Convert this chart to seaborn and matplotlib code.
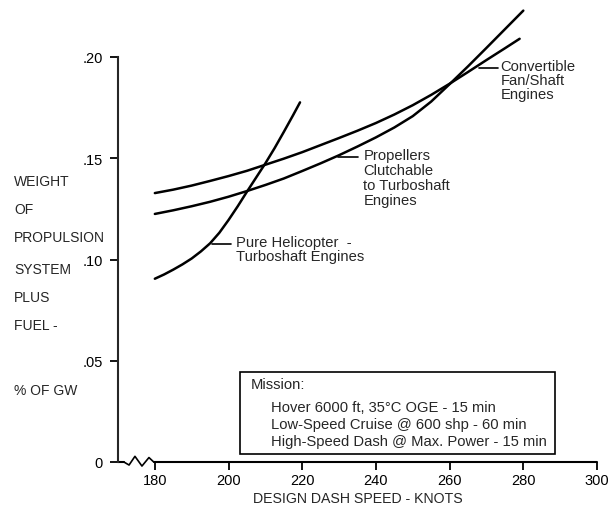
import matplotlib
matplotlib.use("Agg")
import matplotlib.pyplot as plt
from matplotlib.patches import Rectangle
import seaborn as sns
import pandas as pd

# ---- data ----
heli_speed = [180, 182.5, 185, 187.5, 190, 192.5, 195, 197.5, 200, 202.5, 205,
              207.5, 210, 212.5, 215, 217.5, 219.4]
heli_weight = [0.0905, 0.0926, 0.0950, 0.0976, 0.1005, 0.1040, 0.1080, 0.1132,
               0.1195, 0.1263, 0.1335, 0.1405, 0.1475, 0.1550, 0.1630, 0.1712,
               0.1776]

conv_speed = [180, 185, 190, 195, 200, 205, 210, 215, 220, 225, 230, 235, 240,
              245, 250, 255, 260, 265, 270, 275, 279]
conv_weight = [0.1328, 0.1345, 0.1365, 0.1388, 0.1412, 0.1438, 0.1468, 0.1498,
               0.1530, 0.1565, 0.1600, 0.1636, 0.1674, 0.1716, 0.1762, 0.1813,
               0.1868, 0.1926, 0.1985, 0.2043, 0.2090]

prop_speed = [180, 185, 190, 195, 200, 205, 210, 215, 220, 225, 230, 235, 240,
              245, 250, 255, 260, 265, 270, 275, 280]
prop_weight = [0.1225, 0.1243, 0.1263, 0.1285, 0.1310, 0.1338, 0.1368, 0.1400,
               0.1437, 0.1475, 0.1515, 0.1558, 0.1603, 0.1652, 0.1708, 0.1780,
               0.1866, 0.1954, 0.2045, 0.2137, 0.2229]

x_ticks = [180, 200, 220, 240, 260, 280, 300]
y_ticks = [0, 0.05, 0.10, 0.15, 0.20]
y_tick_labels = ["0", ".05", ".10", ".15", ".20"]

ylabel_lines = ["WEIGHT", "OF", "PROPULSION", "SYSTEM", "PLUS", "FUEL -", "% OF GW"]
mission_lines = ["Hover 6000 ft, 35°C OGE - 15 min",
                 "Low-Speed Cruise @ 600 shp - 60 min",
                 "High-Speed Dash @ Max. Power - 15 min"]

df = pd.concat([
    pd.DataFrame({"speed": heli_speed, "weight": heli_weight, "series": "heli"}),
    pd.DataFrame({"speed": conv_speed, "weight": conv_weight, "series": "conv"}),
    pd.DataFrame({"speed": prop_speed, "weight": prop_weight, "series": "prop"}),
], ignore_index=True)

sns.set_theme(style="ticks")
plt.rcParams["font.family"] = ["Liberation Sans", "DejaVu Sans"]

fig = plt.figure(figsize=(6.15, 5.10), dpi=100)
ax = fig.add_axes([118 / 615, 1 - 463 / 510, (597 - 118) / 615, (463 - 58) / 510])

sns.lineplot(data=df, x="speed", y="weight", units="series", estimator=None,
             color="black", linewidth=1.8, ax=ax, sort=False)
for ln in ax.get_lines():
    ln.set_clip_on(False)
    ln.set_solid_joinstyle("round")

ax.set_xlim(170, 300)
ax.set_ylim(0, 0.20)
ax.set_xticks(x_ticks)
ax.set_yticks(y_ticks)
ax.set_yticklabels(y_tick_labels)
ax.tick_params(axis="both", direction="out", length=6, width=1.3,
               labelsize=10.5, color="black", labelcolor="black")
ax.tick_params(axis="y", pad=5)
ax.tick_params(axis="x", pad=2)
for s in ["top", "right"]:
    ax.spines[s].set_visible(False)
ax.spines["left"].set_linewidth(1.5)
ax.spines["bottom"].set_visible(False)

# bottom axis line with break symbol
ax.plot([170, 171.6], [0, 0], color="black", lw=1.5, clip_on=False)
ax.plot([171.6, 173.0, 174.6, 176.5, 178.4, 179.7],
        [0, -0.0015, 0.0028, -0.002, 0.0022, 0],
        color="black", lw=1.2, clip_on=False)
ax.plot([179.7, 300], [0, 0], color="black", lw=1.5, clip_on=False)

ax.set_xlabel("DESIGN DASH SPEED - KNOTS", fontsize=10.2, labelpad=3)
ax.set_ylabel("")

# y label as stacked lines
ylab_pos = [182, 210, 238, 270, 298, 326, 391]
for txt, py in zip(ylabel_lines, ylab_pos):
    fig.text(14 / 615, 1 - py / 510, txt, fontsize=10, ha="left", va="center")

# curve annotations
fs = 10.6
ax.plot([268.1, 273.0], [0.1946, 0.1946], color="black", lw=1.2)
ax.text(273.8, 0.1990, "Convertible\nFan/Shaft\nEngines", fontsize=fs,
        ha="left", va="top", linespacing=1.0)

ax.plot([229.7, 235.1], [0.1506, 0.1506], color="black", lw=1.2)
ax.text(236.6, 0.1550, "Propellers\nClutchable\nto Turboshaft\nEngines",
        fontsize=fs, ha="left", va="top", linespacing=1.1)

ax.plot([195.4, 200.8], [0.1077, 0.1077], color="black", lw=1.2)
ax.text(202.0, 0.1120, "Pure Helicopter  -\nTurboshaft Engines",
        fontsize=fs, ha="left", va="top", linespacing=1.0)

# mission box
ax.add_patch(Rectangle((203.2, 0.004), 288.6 - 203.2, 0.0444 - 0.004,
                       fill=False, edgecolor="black", lw=1.2))
ax.text(205.9, 0.0385, "Mission:", fontsize=fs, ha="left", va="center")
for txt, yv in zip(mission_lines, [0.0272, 0.0188, 0.0104]):
    ax.text(211.4, yv, txt, fontsize=fs, ha="left", va="center")

fig.savefig("out.png", dpi=100, facecolor="white")
